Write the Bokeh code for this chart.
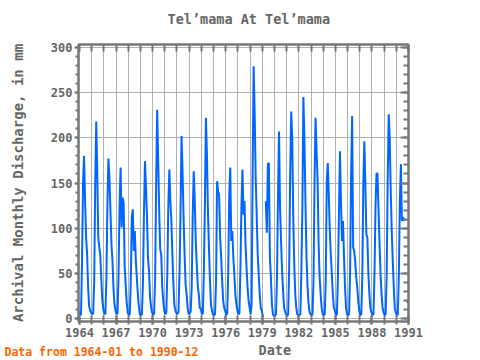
import math
from bokeh.plotting import figure
from bokeh.models import FixedTicker, LinearAxis, Range1d, Title
from bokeh.embed import file_html
from bokeh.resources import INLINE

nan = float("nan")

# Monthly discharge (mm), Jan..Dec
y1964 = [8, 4, 62, 150, 180, 132, 90, 72, 35, 14, 9, 7]
y1965 = [5, 6, 42, 149, 218, 163, 90, 79, 70, 44, 20, 10]
y1966 = [6, 5, 45, 125, 177, 156, 119, 82, 64, 33, 16, 9]
y1967 = [5, 6, 50, 126, 167, 101, 134, 128, 58, 38, 18, 7]
y1968 = [4, 5, 40, 112, 121, 75, 97, 64, 45, 27, 13, 5]
y1969 = [4, 5, 40, 116, 174, 145, 112, 66, 53, 24, 13, 7]
y1970 = [4, 6, 45, 150, 231, 176, 119, 77, 71, 35, 20, 9]
y1971 = [5, 7, 50, 126, 165, 130, 108, 70, 38, 15, 9, 6]
y1972 = [5, 8, 50, 119, 202, 163, 112, 71, 38, 27, 12, 5]
y1973 = [6, 8, 35, 115, 163, 132, 86, 60, 36, 27, 12, 11]
y1974 = [5, 6, 53, 126, 222, 182, 119, 79, 42, 16, 9, 5]
y1975 = [4, 5, 42, 152, 141, 137, 90, 68, 42, 20, 12, 9]
y1976 = [4, 6, 53, 137, 167, 86, 97, 68, 49, 27, 16, 9]
y1977 = [5, 6, 57, 126, 165, 115, 130, 82, 57, 35, 20, 13]
y1978 = [5, 16, 160, 279, 229, 156, 115, 71, 49, 27, 12, 9]
y1979 = [3, 3, nan, 130, 95, 171, 172, 68, 46, 16, 5, 3]
y1980 = [3, 5, 46, 137, 207, 123, 86, 53, 31, 12, 8, 5]
y1981 = [3, 5, 57, 160, 229, 200, 112, 60, 27, 12, 5, 4]
y1982 = [4, 5, 53, 123, 245, 200, 130, 71, 38, 18, 8, 5]
y1983 = [4, 5, 46, 156, 222, 185, 152, 82, 46, 27, 12, 5]
y1984 = [4, 5, 42, 152, 172, 137, 97, 71, 49, 27, 12, 9]
y1985 = [4, 5, 46, 115, 185, 130, 86, 108, 68, 35, 12, 5]
y1986 = [4, 5, 53, 160, 224, 79, 75, 64, 46, 35, 20, 9]
y1987 = [4, 5, 46, 149, 196, 149, 93, 90, 49, 27, 12, 7]
y1988 = [4, 5, 49, 123, 161, 160, 119, 82, 49, 27, 12, 7]
y1989 = [4, 5, 49, 152, 226, 200, 141, 97, 64, 35, 12, 7]
y1990 = [4, 5, 49, 130, 171, 108, 112, 110, 108, nan, 18, 20]

years = list(range(1964, 1991))
monthly = [y1964, y1965, y1966, y1967, y1968, y1969, y1970, y1971, y1972,
           y1973, y1974, y1975, y1976, y1977, y1978, y1979, y1980, y1981,
           y1982, y1983, y1984, y1985, y1986, y1987, y1988, y1989, y1990]

x_major = [1964, 1967, 1970, 1973, 1976, 1979, 1982, 1985, 1988, 1991]
x_all = list(range(1964, 1992))
y_major = [0, 50, 100, 150, 200, 250, 300]
y_minor = list(range(0, 301, 10))

xs = [yr + (m + 0.5) / 12.0 for yr in years for m in range(12)]
ys = [v for vals in monthly for v in vals]

FONT = "DejaVu Sans Mono"
GRAY = "#666666"
AX = "#777777"

p = figure(width=480, height=360, output_backend="svg", toolbar_location=None,
           x_range=Range1d(1963.92, 1991.0), y_range=Range1d(-3, 303),
           min_border_left=78, min_border_right=72, min_border_top=44,
           min_border_bottom=39, background_fill_color="white")

p.title.text = "Tel\u2019mama At Tel\u2019mama"
p.title.align = "left"
p.title.offset = 89
p.title.text_font = FONT
p.title.text_font_size = "13.5px"
p.title.text_font_style = "bold"
p.title.text_color = GRAY
p.title.standoff = 0

p.outline_line_color = AX
p.outline_line_width = 2

# grids
p.xgrid.ticker = FixedTicker(ticks=x_all)
p.ygrid.ticker = FixedTicker(ticks=y_major)
for g in (p.xgrid, p.ygrid):
    g.grid_line_color = "#b0b0b0"
    g.grid_line_width = 1

# left axis
ya = p.yaxis[0]
ya.ticker = FixedTicker(ticks=y_major, minor_ticks=y_minor)
ya.axis_label = "Archival Monthly Discharge, in mm"
ya.axis_label_text_font = FONT
ya.axis_label_text_font_size = "14px"
ya.axis_label_text_font_style = "bold"
ya.axis_label_text_color = GRAY
ya.axis_label_standoff = 22
ya.major_label_text_font = FONT
ya.major_label_text_font_size = "12px"
ya.major_label_text_font_style = "bold"
ya.major_label_text_color = GRAY
ya.major_label_standoff = 2
ya.major_tick_in = 0
ya.major_tick_out = 4
ya.minor_tick_in = 0
ya.minor_tick_out = 3

# bottom axis
xa = p.xaxis[0]
xa.ticker = FixedTicker(ticks=x_major, minor_ticks=x_all)
xa.major_label_text_font = FONT
xa.major_label_text_font_size = "12px"
xa.major_label_text_font_style = "bold"
xa.major_label_text_color = GRAY
xa.major_label_standoff = 3
xa.major_tick_in = 6
xa.major_tick_out = 3
xa.minor_tick_in = 6
xa.minor_tick_out = 3

# top and right axes (ticks only, labels not drawn)
top = LinearAxis(ticker=FixedTicker(ticks=x_all), major_label_text_font_size="1px",
                 major_label_text_alpha=0, major_label_standoff=0,
                 major_tick_in=7, major_tick_out=0)
right = LinearAxis(ticker=FixedTicker(ticks=y_major, minor_ticks=y_minor),
                   major_label_text_font_size="1px", major_label_text_alpha=0,
                   major_label_standoff=0,
                   major_tick_in=8, major_tick_out=0, minor_tick_in=5, minor_tick_out=0)
# invisible spacer axis: only reserves room between frame and title
spacer = LinearAxis(ticker=FixedTicker(ticks=x_all), axis_line_color=None,
                    major_tick_line_color=None, minor_tick_line_color=None,
                    major_tick_in=0, major_tick_out=18,
                    major_label_text_font_size="1px", major_label_text_alpha=0,
                    major_label_standoff=0)
p.add_layout(top, "above")
p.add_layout(spacer, "above")
p.add_layout(right, "right")

for ax in (xa, ya, top, right):
    ax.axis_line_color = AX
    ax.axis_line_width = 2
    ax.major_tick_line_color = AX
    ax.major_tick_line_width = 2
    ax.minor_tick_line_color = AX
    ax.minor_tick_line_width = 2
top.minor_tick_line_color = None

p.line(xs, ys, line_color="#0066ff", line_width=2)

date_title = Title(text="Date", align="left", offset=180, text_font=FONT,
                   text_font_size="13.5px", text_font_style="bold",
                   text_color=GRAY, standoff=0)
note_title = Title(text="Data from 1964-01 to 1990-12", align="left", offset=-74,
                   vertical_align="top",
                   text_font=FONT, text_font_size="11.5px", text_font_style="bold",
                   text_color="#ff6600", standoff=0)
try:
    note_title.standoff = -25
except Exception:
    pass
p.add_layout(date_title, "below")
p.add_layout(note_title, "below")

open("out.html", "w").write(file_html(p, INLINE))
